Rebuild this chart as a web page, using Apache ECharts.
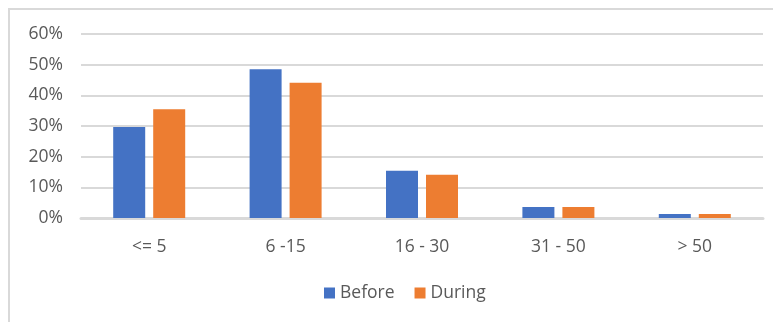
<!DOCTYPE html>
<html>
<head>
<meta charset="utf-8">
<script src="https://cdn.jsdelivr.net/npm/echarts@6/dist/echarts.min.js"></script>
<style>
  html, body { margin: 0; padding: 0; background: #fff; }
  #chart { width: 773px; height: 322px; }
</style>
</head>
<body>
<div id="chart"></div>
<script>
// Share of cases per size band, before and during
var categories = ['<= 5', '6 -15', '16 - 30', '31 - 50', '> 50'];
var seriesNames = ['Before', 'During'];
var beforeValues = [29.7, 48.5, 15.4, 3.6, 1.3];
var duringValues = [35.5, 44.1, 14.1, 3.6, 1.3];
var yTicks = [0, 10, 20, 30, 40, 50, 60];

var FONT = '"Open Sans", "Liberation Sans", sans-serif';
var TEXT = '#595959';
var GRID = '#d9d9d9';

var chart = echarts.init(document.getElementById('chart'), null, { renderer: 'canvas' });

chart.setOption({
  animation: false,
  backgroundColor: '#fff',
  graphic: [{
    type: 'rect',
    shape: { x: 9, y: 9, width: 820, height: 400 },
    style: { fill: 'none', stroke: GRID, lineWidth: 2 },
    silent: true
  }],
  grid: { left: 81, right: 10, top: 34, bottom: 104, containLabel: false },
  legend: {
    data: seriesNames,
    bottom: 15,
    left: 319,
    itemWidth: 11,
    itemHeight: 11,
    itemGap: 20,
    icon: 'rect',
    textStyle: { color: TEXT, fontSize: 17.5, fontFamily: FONT }
  },
  xAxis: {
    type: 'category',
    data: categories,
    axisTick: { show: false },
    axisLine: { show: true, lineStyle: { color: GRID, width: 3 } },
    axisLabel: { color: TEXT, fontSize: 17.5, fontFamily: FONT, margin: 20 }
  },
  yAxis: {
    type: 'value',
    min: yTicks[0],
    max: yTicks[yTicks.length - 1],
    interval: 10,
    axisLine: { show: false },
    axisTick: { show: false },
    splitLine: { lineStyle: { color: GRID, width: 2 } },
    axisLabel: {
      color: TEXT, fontSize: 17.5, fontFamily: FONT, margin: 18,
      formatter: function (v) { return v + '%'; }
    }
  },
  series: [
    {
      name: seriesNames[0], type: 'bar', data: beforeValues,
      barWidth: 32, barGap: '25%',
      itemStyle: { color: '#4472c4' }
    },
    {
      name: seriesNames[1], type: 'bar', data: duringValues,
      barWidth: 32, barGap: '25%',
      itemStyle: { color: '#ed7d31' }
    }
  ]
});
</script>
</body>
</html>
